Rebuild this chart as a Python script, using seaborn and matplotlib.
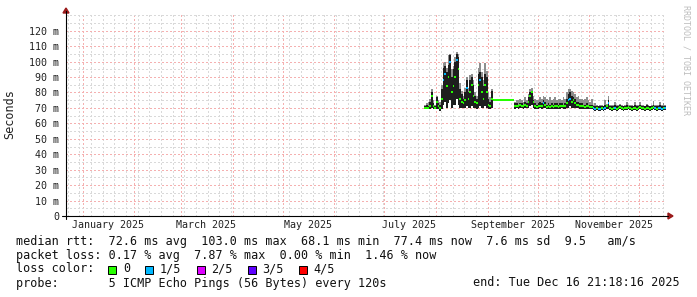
import matplotlib
matplotlib.use("Agg")
import numpy as np
import pandas as pd
import matplotlib.pyplot as plt
import matplotlib.dates as mdates
from matplotlib.ticker import MultipleLocator, FuncFormatter
from matplotlib.patches import Rectangle, Polygon
import seaborn as sns

# ---------------- data ----------------
first_day = "2025-07-25"

median_ms = [
    70, 70, 70, 71, 78, 71, 70, 74, 71, 70, 76, 88, 92, 84, 90, 100, 80, 84, 90, 101,
    95, 76, 74, 73, 75, 83, 76, 80, 85, 78, 74, 73, 85, 88, 80, 76, 85, 80, 72, 71, 76,
    75.3, 75.3, 75.3, 75.3, 75.3, 75.3, 75.3, 75.3, 75.3, 75.3, 75.3, 75.3, 75.3,
    71, 71.5, 71, 72, 71.5, 71, 72, 71.5, 74, 78, 80, 74, 71, 70.5, 71, 71.5, 71,
    73, 72, 70.5, 71, 70.5, 71, 70.5, 71, 71, 70.5, 71, 71.5, 71, 71,
    73, 75, 76, 74, 75, 73, 72, 72, 71.5, 71, 71, 70.5, 71, 71, 70.5, 70.5,
    70, 69.5, 70, 69.5, 69.5, 70, 69.5, 70, 71, 73, 70,
    69.5, 70, 70, 69.5, 70, 70.5, 70, 69.5, 70, 70, 70.5, 70, 69.5, 70, 70, 69.5,
    70, 70.5, 70, 70, 69.5, 70, 70, 69.5, 70, 70.5, 70, 69.5, 70, 70, 69.5, 70, 70,
]
smoke_low_ms = [
    69, 69, 69, 69, 70, 69, 69, 69, 69, 68, 69, 72, 74, 70, 73, 75, 70, 72, 72, 76,
    72, 70, 70, 70, 70, 71, 70, 70, 71, 70, 70, 69, 70, 71, 70, 70, 71, 70, 69, 69, 70,
    75.3, 75.3, 75.3, 75.3, 75.3, 75.3, 75.3, 75.3, 75.3, 75.3, 75.3, 75.3, 75.3,
    69.5, 70, 69.5, 70, 70, 69.5, 70, 70, 70, 71, 72, 70, 69.5, 69, 69.5, 70, 69.5,
    70, 70, 69, 69.5, 69, 69.5, 69, 69.5, 69.5, 69, 69.5, 70, 69.5, 69.5,
    70, 70, 71, 70, 70, 70, 70, 70, 69.5, 69.5, 69.5, 69, 69.5, 69.5, 69, 69,
    68.5, 68, 68.5, 68, 68, 68.5, 68, 68.5, 69, 69, 68.5,
    68, 68.5, 68.5, 68, 68.5, 69, 68.5, 68, 68.5, 68.5, 69, 68.5, 68, 68.5, 68.5, 68,
    68.5, 69, 68.5, 68.5, 68, 68.5, 68.5, 68, 68.5, 69, 68.5, 68, 68.5, 68.5, 68, 68.5, 68.5,
]
smoke_high_ms = [
    71, 72, 71, 74, 80, 73, 71, 77, 73, 72, 82, 96, 97, 93, 98, 104, 90, 95, 100, 105,
    103, 82, 79, 76, 80, 88, 80, 88, 90, 85, 78, 76, 92, 93, 90, 84, 92, 90, 76, 74, 81,
    75.3, 75.3, 75.3, 75.3, 75.3, 75.3, 75.3, 75.3, 75.3, 75.3, 75.3, 75.3, 75.3,
    73, 73, 72, 73, 73, 72, 74, 73, 77, 80, 81, 75, 73, 72, 73, 74, 73,
    75, 74, 72, 73, 72, 73, 72, 73, 73, 72, 73, 73, 72, 73,
    76, 79, 80, 78, 77, 76, 74, 74, 73, 73, 72, 72, 73, 72, 72, 72,
    71.5, 71, 71.5, 71, 71, 71.5, 71, 72, 72, 75, 71.5,
    71.5, 71.5, 72, 71.5, 71.5, 72, 71.5, 71, 71.5, 72, 71.5, 71.5, 71.5, 71, 72, 71.5,
    71.5, 72, 71.5, 71.5, 71, 72, 71.5, 71, 71.5, 72, 71.5, 71.5, 71.5, 72, 71.5, 71.5, 71.5,
]
ping_max_ms = [
    72, 73, 74, 76, 82, 75, 72, 78, 75, 74, 85, 99, 100, 96, 104, 105, 95, 97, 103, 106.5,
    105, 86, 81, 78, 83, 90, 83, 91, 92, 88, 80, 78, 96, 99, 93, 88, 99, 94, 80, 77, 82,
    75.3, 75.3, 75.3, 75.3, 75.3, 75.3, 75.3, 75.3, 75.3, 75.3, 75.3, 75.3, 75.3,
    74, 75, 75, 76, 75, 74, 77, 75, 79, 82, 83, 78, 76, 75, 75, 77, 76,
    78, 77, 76, 75, 77, 75, 76, 77, 75, 76, 76, 75, 77, 76,
    80, 82, 82, 81, 80, 79, 77, 78, 76, 76, 75, 76, 77, 75, 74, 76,
    72, 73, 72, 71.5, 72, 72, 71.5, 75, 72.5, 78, 72,
    72, 72, 74, 72, 72, 72.5, 72, 71.5, 72, 74, 72, 72, 72, 71.5, 74, 72,
    72, 74, 72, 72, 71.5, 72.5, 72, 71.5, 72, 74.5, 72, 72, 72, 74, 72, 73, 72,
]
loss_count = [
    0, 0, 0, 0, 0, 0, 0, 0, 0, 0, 0, 1, 1, 0, 0, 1, 0, 0, 0, 1,
    0, 0, 0, 0, 0, 1, 0, 0, 0, 0, 0, 0, 0, 1, 0, 0, 0, 0, 0, 0, 0,
    0, 0, 0, 0, 0, 0, 0, 0, 0, 0, 0, 0, 0,
    0, 0, 0, 0, 0, 0, 0, 0, 0, 0, 0, 0, 0, 0, 0, 0, 0,
    1, 0, 0, 0, 0, 0, 0, 0, 0, 0, 0, 0, 0, 0,
    0, 1, 1, 0, 0, 0, 0, 0, 0, 0, 0, 0, 0, 0, 0, 0,
    1, 1, 0, 1, 1, 0, 1, 1, 0, 1, 0,
    0, 0, 1, 0, 0, 0, 0, 0, 0, 0, 0, 0, 0, 0, 0, 0,
    0, 0, 0, 0, 0, 0, 0, 0, 0, 0, 1, 0, 1, 1, 1, 0, 1,
]

loss_names = ["0", "1/5", "2/5", "3/5", "4/5"]
loss_colors = ["#26ff00", "#00b8ff", "#dd00ff", "#5e00ff", "#ff0000"]

month_labels = ["January 2025", "March 2025", "May 2025", "July 2025",
                "September 2025", "November 2025"]
month_label_dates = ["2025-01-16", "2025-03-16", "2025-05-16", "2025-07-16",
                     "2025-09-16", "2025-11-16"]
y_ticks = list(range(0, 121, 10))

stats_line1 = "median rtt:  72.6 ms avg  103.0 ms max  68.1 ms min  77.4 ms now  7.6 ms sd  9.5   am/s"
stats_line2 = "packet loss: 0.17 % avg  7.87 % max  0.00 % min  1.46 % now"
stats_line4 = "probe:       5 ICMP Echo Pings (56 Bytes) every 120s"
end_text = "end: Tue Dec 16 21:18:16 2025"

# ---------------- figure ----------------
sns.set_theme(style="white")
plt.rcParams["font.family"] = ["DejaVu Sans Mono", "DejaVu Sans"]

W, H = 697, 297
fig = plt.figure(figsize=(W / 100, H / 100), dpi=100, facecolor="white")

def fx(px):
    return px / W

def fy(py):
    return 1 - py / H

ax_left, ax_right, ax_top, ax_bottom = 66, 666, 14, 216
ax = fig.add_axes([fx(ax_left), fy(ax_bottom), (ax_right - ax_left) / W,
                   (ax_bottom - ax_top) / H])
ax.set_facecolor("white")

df = pd.DataFrame({
    "median": median_ms,
    "low": smoke_low_ms,
    "high": smoke_high_ms,
    "top": ping_max_ms,
    "loss": loss_count,
})
df["date"] = pd.date_range(first_day, periods=len(df), freq="D")

ax.set_xlim(pd.Timestamp("2024-12-22"), pd.Timestamp("2025-12-17"))
ymax = 130.8
ax.set_ylim(0, ymax)

# grid (rrdtool style dotted lines)
grid_style = dict(linestyle=(0, (1, 2)), linewidth=1.0, antialiased=False)
ax.xaxis.set_major_locator(mdates.MonthLocator())
ax.xaxis.set_minor_locator(mdates.WeekdayLocator(byweekday=mdates.MO))
ax.yaxis.set_major_locator(MultipleLocator(10))
ax.yaxis.set_minor_locator(MultipleLocator(5))
ax.grid(which="minor", color="#d9d9d9", **grid_style)
ax.grid(which="major", color="#f5b0b0", **grid_style)
ax.set_axisbelow(True)

# smoke: outer (min..max) and inner bands
bar_w = 1.0
ax.bar(df["date"], df["top"] - df["low"], bottom=df["low"], width=bar_w,
       color="#8e8e8e", linewidth=0, align="edge", zorder=2)
ax.bar(df["date"], df["high"] - df["low"], bottom=df["low"], width=bar_w,
       color="#1e1e1e", linewidth=0, align="edge", zorder=3)

# median band coloured by loss
half = 1.0 / 1.544  # 1 px in ms
for k, col in enumerate(loss_colors):
    sub = df[df["loss"] == k]
    if len(sub):
        ax.bar(sub["date"], 2 * half, bottom=sub["median"] - half, width=bar_w,
               color=col, linewidth=0, align="edge", zorder=4)

# ticks
ax.yaxis.set_major_formatter(FuncFormatter(lambda v, p: "0" if v == 0 else f"{int(v)} m"))
ax.set_yticks(y_ticks)
ax.tick_params(axis="y", which="major", length=3, width=0.7, color="#444444",
               pad=2, labelsize=7.2, labelcolor="#222222")
ax.tick_params(axis="y", which="minor", length=0)
ax.tick_params(axis="x", which="both", length=0, labelbottom=False)
for s in ax.spines.values():
    s.set_visible(False)

# month labels
tr = ax.get_xaxis_transform()
for d, lab in zip(month_label_dates, month_labels):
    ax.text(pd.Timestamp(d), -(225 - ax_bottom) / (ax_bottom - ax_top), lab,
            transform=tr, ha="center", va="center", fontsize=7.2, color="#222222",
            clip_on=False)

# axes lines with arrows
fig.add_artist(plt.Line2D([fx(66), fx(66)], [fy(219), fy(11)], color="#000000",
                          linewidth=0.8, transform=fig.transFigure))
fig.add_artist(plt.Line2D([fx(62), fx(668)], [fy(216), fy(216)], color="#000000",
                          linewidth=0.8, transform=fig.transFigure))
fig.add_artist(Polygon([[fx(63), fy(13)], [fx(69), fy(13)], [fx(66), fy(8)]],
                       closed=True, color="#9a1a1a", transform=fig.transFigure))
fig.add_artist(Polygon([[fx(668), fy(213)], [fx(668), fy(219)], [fx(673), fy(216)]],
                       closed=True, color="#9a1a1a", transform=fig.transFigure))

# axis label and watermark
fig.text(fx(10), fy(114), "Seconds", rotation=90, ha="center", va="center",
         fontsize=8.5, color="#222222")
fig.text(fx(686), fy(60), "RRDTOOL / TOBI OETIKER", rotation=270, ha="center",
         va="center", fontsize=6, color="#bdbdbd")

# legend / stats text
fs = 8.5
fig.text(fx(16), fy(241), stats_line1, ha="left", va="center", fontsize=fs, color="#111111")
fig.text(fx(16), fy(255), stats_line2, ha="left", va="center", fontsize=fs, color="#111111")
fig.text(fx(16), fy(269), "loss color:", ha="left", va="center", fontsize=fs, color="#111111")
box_x = [108, 145, 196.5, 247.5, 298.7]
lab_x = [123, 160, 211, 262, 313]
for bx, lx, name, col in zip(box_x, lab_x, loss_names, loss_colors):
    fig.add_artist(Rectangle((fx(bx), fy(273.5)), 8 / W, 8 / H, facecolor=col,
                             edgecolor="#000000", linewidth=0.7,
                             transform=fig.transFigure))
    fig.text(fx(lx), fy(269), name, ha="left", va="center", fontsize=fs, color="#111111")
fig.text(fx(16), fy(283), stats_line4, ha="left", va="center", fontsize=fs, color="#111111")
fig.text(fx(680), fy(283), end_text, ha="right", va="center", fontsize=fs, color="#111111")

fig.savefig("out.png", dpi=100, facecolor="white")
